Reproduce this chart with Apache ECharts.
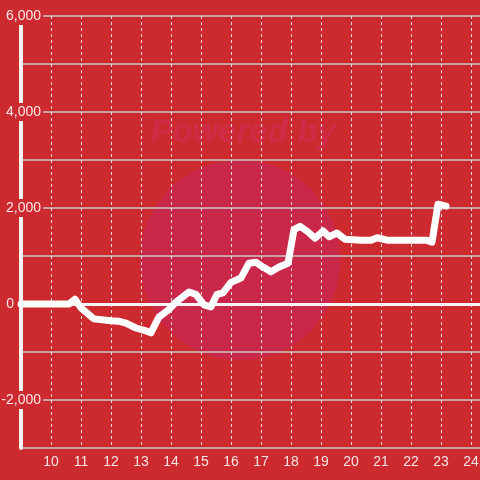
<!DOCTYPE html>
<html>
<head>
<meta charset="utf-8">
<script src="https://cdn.jsdelivr.net/npm/echarts@6/dist/echarts.min.js"></script>
<style>
html, body { margin: 0; padding: 0; background: #cc2a2f; }
#main { width: 480px; height: 480px; }
</style>
</head>
<body>
<div id="main"></div>
<script>
// hour of day vs running balance
var hours = [9.0, 10.6, 10.8, 11.0, 11.43, 12.0, 12.27, 12.5, 12.83, 13.17, 13.33, 13.6, 13.9, 14.17,
    14.6, 14.83, 15.1, 15.33, 15.53, 15.73, 16.0, 16.33, 16.6, 16.83, 17.07, 17.33, 17.6, 17.9,
    18.1, 18.3, 18.57, 18.8, 19.07, 19.27, 19.53, 19.8, 20.33, 20.67, 20.87, 21.2, 22.5, 22.7, 22.9, 23.17];
var balance = [0, 0, 100, -80, -310, -350, -360, -400, -500, -560, -600, -270, -130, 40,
    250, 200, -20, -60, 200, 230, 450, 540, 850, 870, 770, 670, 770, 850,
    1550, 1620, 1500, 1370, 1520, 1400, 1480, 1350, 1330, 1330, 1380, 1330, 1330, 1290, 2080, 2040];
var yTicks = {min: -3000, max: 6000, interval: 1000};
var xTicks = {min: 9, max: 24.3, interval: 1};

var points = [];
for (var i = 0; i < hours.length; i++) {
    points.push([hours[i], balance[i]]);
}

var bg = '#cc2a2f';
var labelColor = '#f6e4e4';
var gridColor = '#c9c9c9';

var dom = document.getElementById('main');
var myChart = echarts.init(dom);
var option = {
    backgroundColor: bg,
    animation: false,
    graphic: [
        {
            type: 'circle',
            shape: {cx: 240, cy: 260, r: 100},
            style: {fill: '#c9284a'},
            z: -10
        },
        {
            type: 'text',
            x: 243,
            y: 133,
            style: {
                text: 'Powered by',
                font: 'italic bold 33px "Liberation Sans", Arial, sans-serif',
                fill: '#d02c48',
                align: 'center',
                verticalAlign: 'middle'
            },
            z: -10
        }
    ],
    grid: {
        left: 21,
        right: 0,
        top: 16,
        bottom: 32,
        outerBoundsMode: 'none',
        containLabel: false
    },
    xAxis: {
        type: 'value',
        min: xTicks.min,
        max: xTicks.max,
        interval: xTicks.interval,
        axisLine: {show: true, lineStyle: {color: gridColor, width: 1.5}},
        axisTick: {show: false},
        axisLabel: {
            color: labelColor,
            fontSize: 14,
            fontFamily: '"Liberation Sans", Arial, sans-serif',
            margin: 7,
            showMinLabel: false,
            showMaxLabel: false,
            formatter: function (v) {
                return Math.abs(v - Math.round(v)) < 1e-6 ? String(Math.round(v)) : '';
            }
        },
        splitLine: {show: true, lineStyle: {color: '#dcdcdc', type: [3, 3], width: 1}}
    },
    yAxis: {
        type: 'value',
        min: yTicks.min,
        max: yTicks.max,
        interval: yTicks.interval,
        axisLine: {show: true, onZero: false, lineStyle: {color: '#f2f2f2', width: 4}},
        axisTick: {show: false},
        axisLabel: {
            inside: true,
            align: 'right',
            margin: 22,
            color: labelColor,
            fontSize: 14,
            fontFamily: '"Liberation Sans", Arial, sans-serif',
            formatter: function (v) {
                if (v % 2000 !== 0) return '';
                if (v === 0) return '{z|0}{sp|}';
                return '{n|' + v.toLocaleString('en-US') + '}';
            },
            rich: {
                n: {backgroundColor: bg, padding: [2, 2, 2, 3], color: labelColor, fontSize: 14},
                z: {backgroundColor: bg, padding: [2, 2, 2, 2], color: labelColor, fontSize: 14},
                sp: {width: 27}
            }
        },
        splitLine: {show: true, lineStyle: {color: gridColor, width: 1.5}}
    },
    series: [
        {
            type: 'line',
            data: points,
            showSymbol: false,
            lineStyle: {color: '#ffffff', width: 7, join: 'round', cap: 'round'},
            markLine: {
                silent: true,
                symbol: 'none',
                label: {show: false},
                lineStyle: {color: '#f4f4f4', width: 3, type: 'solid'},
                data: [{yAxis: 0}]
            },
            z: 5
        }
    ]
};
if (option && typeof option === "object") {
    myChart.setOption(option, true);
}
</script>
</body>
</html>
